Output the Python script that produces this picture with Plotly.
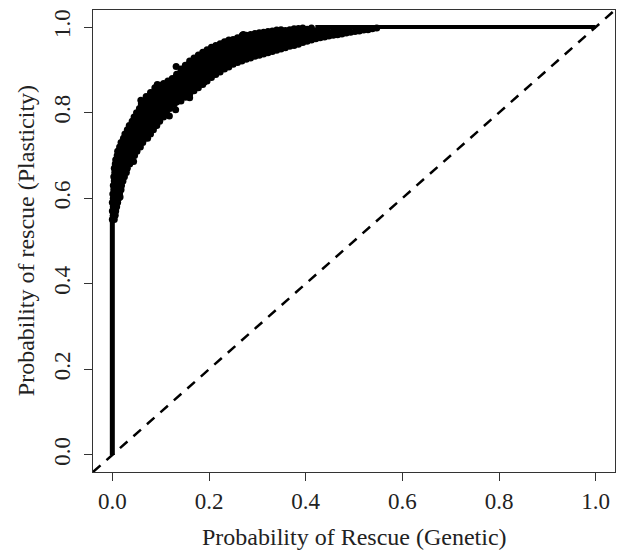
import plotly.graph_objects as go

# ---- data ----
# steep part of the cloud: rows at fixed Plasticity value, with Genetic values in each row
STEEP_Y = [0.55, 0.56, 0.57, 0.58, 0.59, 0.60, 0.61, 0.62, 0.63, 0.64, 0.65, 0.66, 0.67, 0.68,
           0.69, 0.70, 0.71, 0.72, 0.73, 0.74, 0.75, 0.76, 0.77, 0.78, 0.79, 0.80, 0.81, 0.82]
STEEP_X = [
    [0.000, 0.004],
    [0.002, 0.006],
    [0.000, 0.007],
    [0.002, 0.009],
    [0.000, 0.006, 0.011],
    [0.002, 0.009, 0.013],
    [0.001, 0.008, 0.015],
    [0.003, 0.011, 0.018],
    [0.002, 0.010, 0.019],
    [0.004, 0.013, 0.022],
    [0.003, 0.012, 0.020, 0.025],
    [0.005, 0.014, 0.022, 0.029],
    [0.004, 0.013, 0.022, 0.031],
    [0.006, 0.015, 0.024, 0.033, 0.036],
    [0.007, 0.016, 0.025, 0.034, 0.041],
    [0.010, 0.019, 0.028, 0.037, 0.046],
    [0.011, 0.020, 0.029, 0.038, 0.047, 0.051],
    [0.015, 0.024, 0.033, 0.042, 0.051, 0.058],
    [0.018, 0.027, 0.036, 0.045, 0.054, 0.063],
    [0.023, 0.032, 0.041, 0.050, 0.059, 0.068, 0.073],
    [0.026, 0.035, 0.044, 0.053, 0.062, 0.071, 0.079],
    [0.031, 0.040, 0.049, 0.058, 0.067, 0.076, 0.085],
    [0.035, 0.044, 0.053, 0.062, 0.071, 0.080, 0.089, 0.092],
    [0.041, 0.050, 0.059, 0.068, 0.077, 0.086, 0.095, 0.098],
    [0.045, 0.054, 0.063, 0.072, 0.081, 0.090, 0.099, 0.106],
    [0.050, 0.059, 0.068, 0.077, 0.086, 0.095, 0.104, 0.112],
    [0.056, 0.065, 0.074, 0.083, 0.092, 0.101, 0.110, 0.119],
    [0.060, 0.069, 0.078, 0.087, 0.096, 0.105, 0.114, 0.123, 0.128],
]

# flatter part of the cloud: columns at fixed Genetic value, with Plasticity values in each column
FLAT_X = [0.070, 0.079, 0.088, 0.097, 0.106, 0.115, 0.124, 0.133, 0.142, 0.151, 0.160, 0.169,
          0.178, 0.187, 0.196, 0.205, 0.214, 0.223, 0.232, 0.241, 0.250, 0.259, 0.268, 0.277,
          0.286, 0.295, 0.304, 0.313, 0.322, 0.331, 0.340, 0.349, 0.358, 0.367, 0.376, 0.385,
          0.394, 0.403, 0.412, 0.421, 0.430, 0.439, 0.448, 0.457, 0.466, 0.475, 0.484, 0.493,
          0.502, 0.511, 0.520, 0.529, 0.538, 0.547]
FLAT_Y = [
    [0.830, 0.838],
    [0.828, 0.838, 0.847],
    [0.832, 0.842, 0.852, 0.858],
    [0.829, 0.839, 0.849, 0.859, 0.864],
    [0.832, 0.842, 0.852, 0.862, 0.868],
    [0.827, 0.837, 0.847, 0.857, 0.867, 0.874],
    [0.830, 0.840, 0.850, 0.860, 0.870, 0.880],
    [0.825, 0.835, 0.845, 0.855, 0.865, 0.875, 0.885, 0.890],
    [0.827, 0.836, 0.846, 0.856, 0.866, 0.876, 0.886, 0.896, 0.902],
    [0.836, 0.841, 0.851, 0.861, 0.871, 0.881, 0.891, 0.901, 0.911],
    [0.843, 0.847, 0.857, 0.867, 0.877, 0.887, 0.897, 0.907, 0.916, 0.921],
    [0.851, 0.861, 0.871, 0.881, 0.891, 0.901, 0.911, 0.921, 0.928],
    [0.858, 0.867, 0.877, 0.887, 0.897, 0.907, 0.917, 0.927, 0.935],
    [0.866, 0.872, 0.882, 0.892, 0.902, 0.912, 0.922, 0.932, 0.941],
    [0.874, 0.883, 0.893, 0.903, 0.913, 0.923, 0.933, 0.943, 0.947],
    [0.882, 0.888, 0.898, 0.908, 0.918, 0.928, 0.938, 0.948, 0.953],
    [0.889, 0.897, 0.907, 0.917, 0.927, 0.937, 0.947, 0.957],
    [0.895, 0.902, 0.912, 0.922, 0.932, 0.942, 0.952, 0.961],
    [0.902, 0.911, 0.921, 0.931, 0.941, 0.951, 0.961, 0.966],
    [0.907, 0.916, 0.926, 0.936, 0.946, 0.956, 0.966, 0.970],
    [0.913, 0.921, 0.931, 0.941, 0.951, 0.961, 0.971],
    [0.917, 0.926, 0.936, 0.946, 0.956, 0.966, 0.975],
    [0.921, 0.931, 0.941, 0.951, 0.961, 0.971, 0.978],
    [0.925, 0.935, 0.945, 0.955, 0.965, 0.975, 0.981],
    [0.928, 0.938, 0.948, 0.958, 0.968, 0.978, 0.983],
    [0.932, 0.941, 0.951, 0.961, 0.971, 0.981, 0.985],
    [0.934, 0.944, 0.954, 0.964, 0.974, 0.984, 0.987],
    [0.937, 0.946, 0.956, 0.966, 0.976, 0.986, 0.988],
    [0.940, 0.950, 0.960, 0.970, 0.980, 0.990],
    [0.943, 0.952, 0.962, 0.972, 0.982, 0.991],
    [0.946, 0.956, 0.966, 0.976, 0.986, 0.993],
    [0.949, 0.958, 0.968, 0.978, 0.988, 0.994],
    [0.952, 0.962, 0.972, 0.982, 0.992],
    [0.955, 0.964, 0.974, 0.984, 0.994],
    [0.957, 0.967, 0.977, 0.987, 0.996],
    [0.960, 0.969, 0.979, 0.989, 0.997],
    [0.964, 0.973, 0.983, 0.993, 0.998],
    [0.967, 0.975, 0.985, 0.995],
    [0.970, 0.979, 0.989, 0.998],
    [0.973, 0.981, 0.991],
    [0.975, 0.984, 0.994],
    [0.977, 0.986, 0.996],
    [0.979, 0.988],
    [0.981, 0.990],
    [0.982, 0.992],
    [0.984, 0.993],
    [0.986, 0.995],
    [0.988],
    [0.990],
    [0.991],
    [0.993],
    [0.994],
    [0.996],
    [0.998],
]

# scattered stray points at the edge of the cloud
STRAY_X = [0.016, 0.044, 0.059, 0.131, 0.132, 0.093, 0.271, 0.190, 0.118, 0.160, 0.269, 0.238]
STRAY_Y = [0.603, 0.686, 0.829, 0.807, 0.908, 0.866, 0.983, 0.871, 0.792, 0.835, 0.981, 0.966]

# runs of stacked points: Genetic = 0 (vertical) and Plasticity = 1 (horizontal)
VERT_X = [0.0, 0.0]
VERT_Y = [0.0, 0.56]
HORIZ_X = [0.42, 1.0]
HORIZ_Y = [1.0, 1.0]

# 1:1 reference line
DIAG = [-0.04, 1.04]

TICKS = [0.0, 0.2, 0.4, 0.6, 0.8, 1.0]
TICK_TEXT = ["0.0", "0.2", "0.4", "0.6", "0.8", "1.0"]

X_TITLE = "Probability of Rescue (Genetic)"
Y_TITLE = "Probability of rescue (Plasticity)"

# ---- build point arrays ----
px, py = [], []
for yv, xs in zip(STEEP_Y, STEEP_X):
    for xv in xs:
        px.append(xv)
        py.append(yv)
for xv, ys in zip(FLAT_X, FLAT_Y):
    for yv in ys:
        px.append(xv)
        py.append(yv)
px += STRAY_X
py += STRAY_Y

FONT = "Liberation Serif"

fig = go.Figure()
fig.add_trace(go.Scatter(x=VERT_X, y=VERT_Y, mode="lines",
                         line=dict(color="black", width=5), hoverinfo="skip"))
fig.add_trace(go.Scatter(x=HORIZ_X, y=HORIZ_Y, mode="lines",
                         line=dict(color="black", width=4), hoverinfo="skip"))
fig.add_trace(go.Scatter(x=px, y=py, mode="markers",
                         marker=dict(color="black", size=7, line=dict(width=0))))
fig.add_trace(go.Scatter(x=DIAG, y=DIAG, mode="lines",
                         line=dict(color="black", width=2.5, dash="10px,8px"), hoverinfo="skip"))

axis_common = dict(
    range=[-0.04, 1.04], tickvals=TICKS, ticktext=TICK_TEXT,
    ticks="outside", ticklen=8, tickwidth=1, tickcolor="#333",
    showline=True, mirror=True, linecolor="#333", linewidth=1,
    showgrid=False, zeroline=False,
    tickfont=dict(family=FONT, size=23, color="#222"),
)
fig.update_xaxes(**axis_common, ticklabelstandoff=0)
fig.update_yaxes(**axis_common, tickangle=-90, ticklabelstandoff=5)

fig.add_annotation(text=X_TITLE, xref="paper", yref="paper", x=0.5, y=-0.1407,
                   xanchor="center", yanchor="middle", showarrow=False,
                   font=dict(family=FONT, size=24, color="#222"))
fig.add_annotation(text=Y_TITLE, xref="paper", yref="paper", x=-0.128, y=0.5,
                   xanchor="center", yanchor="middle", showarrow=False, textangle=-90,
                   font=dict(family=FONT, size=24, color="#222"))

fig.update_layout(
    width=617, height=552,
    margin=dict(l=93, r=2, t=10, b=80),
    plot_bgcolor="white", paper_bgcolor="white",
    showlegend=False,
)

fig.write_html("out.html")
